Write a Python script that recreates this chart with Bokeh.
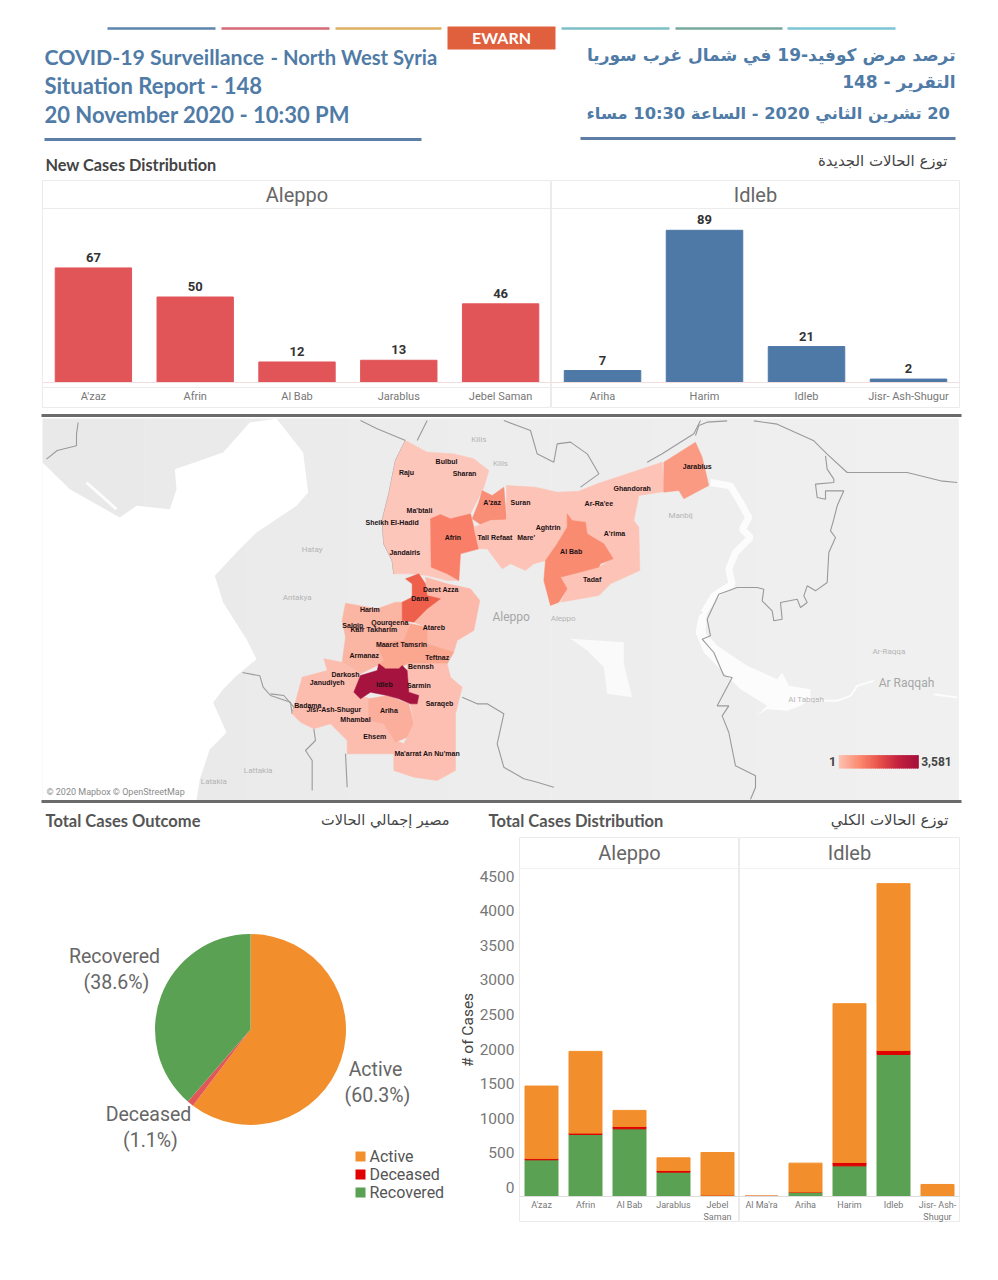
import math
from bokeh.core.properties import value
from bokeh.embed import file_html
from bokeh.layouts import column, row
from bokeh.models import ColumnDataSource, FactorRange, FixedTicker, Range1d, Span
from bokeh.plotting import figure
from bokeh.resources import INLINE
from bokeh.transform import dodge

# ---------- data ----------
aleppo_districts = ["A'zaz", "Afrin", "Al Bab", "Jarablus", "Jebel Saman"]
aleppo_new_cases = [67, 50, 12, 13, 46]
idleb_districts = ["Ariha", "Harim", "Idleb", "Jisr- Ash-Shugur"]
idleb_new_cases = [7, 89, 21, 2]

outcome_labels = ["Active", "Deceased", "Recovered"]
outcome_share = [60.3, 1.1, 38.6]

total_aleppo_districts = ["A'zaz", "Afrin", "Al Bab", "Jarablus", "Jebel\nSaman"]
total_aleppo_recovered = [530, 897, 978, 352, 14]
total_aleppo_deceased = [20, 19, 34, 24, 5]
total_aleppo_active = [1046, 1181, 232, 183, 617]
total_idleb_districts = ["Al Ma'ra", "Ariha", "Harim", "Idleb", "Jisr- Ash-\nShugur"]
total_idleb_recovered = [2, 63, 443, 2053, 0]
total_idleb_deceased = [0, 2, 49, 58, 0]
total_idleb_active = [3, 417, 2294, 2410, 174]
total_ticks = [0, 500, 1000, 1500, 2000, 2500, 3000, 3500, 4000, 4500]

# map data: planar map coordinates
map_region_names = ["Afrin NW", "Afrin", "A'zaz", "Mare'", "Ar-Ra'ee", "Al Bab", "Jarablus",
                    "Atareb", "Harim", "Maaret Tamsrin", "Dana", "Jisr-Ash-Shugur", "Ariha",
                    "Ma'arrat", "Idleb"]
map_region_x = [
    [405, 470, 550, 610, 655, 640, 605, 600, 540, 510, 480, 482, 530, 565, 530, 470, 420, 370, 365, 340, 335, 355, 375],
    [480, 510, 540, 600, 610, 625, 570, 565, 530, 482],
    [635, 665, 700, 708, 660, 630, 605, 625],
    [708, 795, 860, 890, 890, 860, 825, 790, 765, 720, 695, 650, 625, 610, 630, 660, 708],
    [860, 925, 980, 1175, 1182, 1105, 1090, 1105, 1108, 1020, 985, 870, 890, 870, 985, 1025, 1000, 950, 945, 905, 890],
    [890, 905, 945, 950, 1000, 1028, 990, 985, 870, 890, 865, 840, 820, 825, 860, 890],
    [1180, 1275, 1295, 1315, 1240, 1225, 1180],
    [465, 530, 600, 628, 610, 560, 550, 470, 470, 430, 470, 510, 470],
    [225, 265, 320, 375, 395, 395, 420, 400, 315, 340, 320, 270, 215, 225, 215],
    [315, 400, 420, 470, 470, 550, 530, 410, 385, 345, 320, 340],
    [405, 445, 465, 470, 510, 470, 430, 395, 395, 425, 425],
    [160, 215, 270, 250, 300, 295, 340, 375, 400, 370, 230, 230, 180, 130, 90, 65, 95, 170],
    [295, 350, 415, 430, 410, 375, 340, 295],
    [410, 530, 540, 575, 555, 555, 500, 430, 370, 370, 400, 410, 430, 420, 440, 445, 415],
    [270, 320, 325, 345, 385, 395, 410, 415, 445, 440, 420, 385, 350, 300, 270, 250],
]
map_region_y = [
    [60, 95, 100, 115, 150, 200, 270, 280, 295, 282, 295, 440, 460, 480, 480, 465, 460, 460, 420, 370, 300, 220, 120],
    [295, 282, 295, 280, 320, 385, 400, 480, 460, 440],
    [210, 225, 200, 298, 300, 312, 295, 245],
    [195, 200, 215, 290, 320, 370, 420, 430, 450, 430, 445, 385, 385, 320, 312, 300, 298],
    [215, 212, 190, 125, 213, 225, 300, 320, 450, 490, 525, 545, 505, 470, 440, 415, 370, 340, 305, 300, 290],
    [280, 300, 305, 340, 370, 415, 430, 440, 470, 505, 545, 555, 480, 420, 370, 320],
    [125, 65, 110, 195, 235, 210, 215],
    [470, 490, 505, 540, 630, 660, 695, 670, 620, 605, 565, 535, 525],
    [548, 555, 565, 545, 545, 600, 610, 660, 665, 720, 735, 760, 725, 650, 600],
    [665, 660, 610, 620, 670, 695, 730, 730, 745, 745, 735, 720],
    [475, 460, 490, 525, 535, 565, 605, 600, 545, 530, 490],
    [715, 725, 760, 820, 835, 900, 910, 960, 970, 1000, 1000, 960, 910, 925, 905, 880, 770, 750],
    [835, 825, 850, 910, 950, 965, 910, 900],
    [730, 730, 770, 800, 880, 1050, 1080, 1070, 1050, 1000, 970, 950, 910, 850, 850, 825, 815],
    [765, 750, 730, 745, 745, 735, 750, 815, 825, 850, 850, 835, 825, 815, 835, 815],
]
map_region_color = ["#fdc6ba", "#f97f68", "#f98e76", "#fdc3b6", "#fdc3b6", "#f98b71", "#fa9a82",
                    "#fcb9a9", "#fbb5a3", "#fba78f", "#ee5f4c", "#fcbcae", "#fbae9b", "#fcbfb1", "#a5133e"]

sea_x = [-684, -602, -452, -402, -302, -282, -287, -142, -62, 18, 98, 113, 78, -42, -102, -167, -142, -72, -42, -102, -142, -172, -132, -182, -212, -222, -684]
sea_y = [126, 206, 291, 256, 266, 206, 146, 96, 6, -6, 96, 216, 256, 336, 396, 466, 546, 656, 716, 766, 806, 846, 936, 986, 1076, 1140, 1140]
lake_x = [1310, 1305, 1340, 1430, 1520, 1535, 1555, 1620, 1620, 1590, 1550, 1490, 1460, 1490, 1410, 1360, 1300, 1275, 1285]
lake_y = [566, 636, 676, 736, 776, 756, 796, 806, 836, 856, 871, 866, 886, 856, 806, 756, 696, 636, 586]
salt_x = [900, 1060, 1060, 1085, 1010, 1000, 950]
salt_y = [655, 665, 730, 830, 820, 740, 690]
river_x = [[1320, 1380, 1410, 1435, 1415, 1440, 1395, 1375, 1385, 1330, 1300], [1610, 1700, 1740, 1760, 1810], [1990, 2060], [-552, -462]]
river_y = [[186, 196, 246, 291, 326, 351, 396, 446, 491, 526, 576], [841, 841, 826, 796, 781], [821, 831], [186, 266]]
river_w = [7, 2, 2, 3]

border_x = [
    [270, 320, 405], [440, 470], [700, 780, 800, 850, 860, 900, 950, 985, 930], [1130, 1175, 1270, 1290],
    [405, 375, 355, 335, 340, 365, 370], [0, 40, 70, 65], [130, 135, 105, 125, 125], [225, 230],
    [575, 620, 650, 700, 680, 700, 760, 800, 850], [-672, -640, -582, -582, -577],
    [-84, -32, -22, 0, 60, 65], [1275, 1285, 1310, 1370],
    [1450, 1520, 1630, 1670, 1730, 1910, 2010, 2060],
    [1665, 1670, 1690, 1690, 1635, 1640, 1665, 1665, 1720, 1700, 1690, 1680, 1695, 1675, 1670, 1635, 1610, 1600, 1610, 1590, 1580, 1530, 1535, 1510, 1505, 1475, 1480, 1460, 1400, 1345, 1310, 1320, 1295, 1330, 1360, 1385, 1340, 1375, 1355, 1375, 1395, 1455, 1455, 1440],
]
border_y = [
    [0, 25, 60], [60, 0], [0, 30, 100, 125, 70, 65, 100, 160, 200], [125, 100, 40, 0],
    [60, 120, 220, 300, 370, 420, 460], [820, 825, 860, 880], [925, 960, 990, 1020, 1110], [1000, 1100],
    [830, 850, 850, 880, 970, 1040, 1075, 1085, 1100], [116, 90, 76, 40, 6],
    [756, 766, 800, 825, 845, 880], [45, 15, 5, 1],
    [1, 11, 61, 101, 156, 156, 181, 186],
    [106, 146, 176, 186, 191, 231, 236, 211, 211, 256, 296, 331, 351, 396, 486, 511, 496, 526, 546, 561, 536, 546, 596, 601, 571, 541, 506, 501, 501, 521, 596, 646, 656, 696, 766, 771, 856, 856, 886, 936, 1036, 1066, 1101, 1136],
]

map_place_names = ["Hatay", "Antakya", "Kilis", "Kilis", "Manbij", "Aleppo", "Lattakia", "Latakia", "Ar-Raqqa", "Al Tabqah"]
map_place_x = [125, 80, 625, 690, 1230, 878, -37, -170, 1855, 1607]
map_place_y = [388, 530, 58, 130, 285, 595, 1051, 1084, 694, 838]
map_city_names = ["Aleppo", "Ar Raqqah"]
map_city_x = [722, 1908]
map_city_y = [590, 788]

district_names = ["Bulbul", "Raju", "Sharan", "Jarablus", "A'zaz", "Suran", "Ghandorah", "Ar-Ra'ee", "Ma'btali",
                  "Sheikh El-Hadid", "Aghtrin", "A'rima", "Afrin", "Tall Refaat", "Mare'", "Jandairis", "Al Bab",
                  "Tadaf", "Daret Azza", "Dana", "Harim", "Qourqeena", "Salqin", "Kafr Takharim", "Atareb",
                  "Maaret Tamsrin", "Armanaz", "Teftnaz", "Bennsh", "Darkosh", "Janudiyeh", "Idleb", "Sarmin",
                  "Saraqeb", "Badama", "Jisr-Ash-Shugur", "Ariha", "Mhambal", "Ehsem", "Ma'arrat An Nu'man"]
district_x = [528, 408, 582, 1280, 665, 750, 1085, 985, 447, 365, 833, 1032, 547, 673, 767, 403, 902, 965, 511, 448,
              298, 358, 247, 310, 490, 393, 281, 500, 451, 225, 170, 342, 445, 507, 112, 190, 355, 255, 313, 470]
district_y = [124, 155, 160, 137, 247, 247, 205, 250, 269, 305, 322, 340, 352, 350, 352, 395, 392, 478, 508, 533,
              568, 605, 615, 628, 620, 673, 706, 711, 737, 762, 785, 793, 795, 848, 855, 866, 870, 897, 948, 998]
scale_stops = ["#fcbfb0", "#fb8a70", "#e8524a", "#c4213f", "#a5103c"]
scale_low, scale_high = "1", "3,581"

# ---------- styling ----------
HEAD = "Lato"
NARROW = "Roboto"
ARABIC = "DejaVu Sans"
BLUE_TXT = "#4f7ba6"
ORANGE, RED, GREEN = "#f28e2b", "#e00000", "#5ba153"
FRAME = "#ebebeb"


def page_fig(w, h, x0, x1, y0, y1):
    p = figure(width=w, height=h, x_range=Range1d(x0, x1), y_range=Range1d(y0, y1),
               output_backend="svg", toolbar_location=None, min_border=0)
    p.axis.visible = False
    p.grid.visible = False
    p.outline_line_color = None
    return p


def txt(p, x, y, s, size, color, font=HEAD, style="normal", align="left", angle=0):
    p.text(x=[x], y=[y], text=[s], text_font=value(font), text_font_size=f"{size}px", text_color=color,
           text_font_style=style, text_align=align, text_baseline="middle", angle=angle)


def rtl(s):
    return "\u202b" + s + "\u202c"


# ---------- header ----------
head = page_fig(990, 180, 0, 990, 180, 0)
for (a, b), c in zip([(107, 215), (221, 329), (335, 441), (561, 669), (675, 782), (787, 895)],
                     ["#5d85ad", "#d46a74", "#dfae62", "#7dbfc7", "#76a89e", "#7cc4d4"]):
    head.line([a, b], [28, 28], line_color=c, line_width=2.5)
head.quad(left=[447], right=[555], top=[26], bottom=[49], fill_color="#e0603d", line_color=None)
txt(head, 501, 37, "EWARN", 16, "white", style="bold", align="center")
txt(head, 44, 56, "COVID-19 Surveillance", 21.3, BLUE_TXT, style="bold")
txt(head, 270, 56, "- North West Syria", 20.2, BLUE_TXT, style="bold")
txt(head, 44, 85, "Situation Report - 148", 22, BLUE_TXT, style="bold")
txt(head, 44, 114, "20 November  2020 - 10:30 PM", 22, BLUE_TXT, style="bold")
head.line([44, 421], [139, 139], line_color="#5d7fa5", line_width=3)
head.line([580, 955], [138, 138], line_color="#5d7fa5", line_width=3)
txt(head, 955, 54, rtl("ترصد مرض كوفيد-19 في شمال غرب سوريا"), 17, BLUE_TXT, ARABIC, "bold", "right")
txt(head, 955, 81, rtl("التقرير - 148"), 17, BLUE_TXT, ARABIC, "bold", "right")
txt(head, 955, 113, rtl("20 تشرين الثاني 2020  - الساعة 10:30 مساء"), 16.3, BLUE_TXT, ARABIC, "bold", "right")
txt(head, 45, 164, "New Cases Distribution", 16.3, "#444444", style="bold")
txt(head, 947, 160, rtl("توزع الحالات الجديدة"), 15, "#444444", ARABIC, "normal", "right")


# ---------- new cases ----------
def new_cases(title, cats, vals, color, width, left, right, offset):
    px = 1.71
    p = figure(width=width, height=228, x_range=FactorRange(factors=cats),
               y_range=Range1d(-26 / px, 202 / px), output_backend="svg", toolbar_location=None,
               min_border=0, min_border_left=left, min_border_right=right)
    p.grid.visible = False
    p.yaxis.visible = False
    p.outline_line_color = FRAME
    p.vbar(x=cats, top=vals, width=0.75, color=color)
    p.text(x=cats, y=vals, text=[str(v) for v in vals], text_font=value(NARROW), text_font_style="bold",
           text_font_size="13px", text_color="#333333", text_align="center", text_baseline="bottom", y_offset=-6)
    s = ColumnDataSource(dict(c=[cats[len(cats) // 2 - (0 if offset == 0 else 1)]], y=[188 / px], t=[title]))
    p.text(x=dodge("c", offset, range=p.x_range), y="y", text="t", source=s, text_font=value("Roboto"),
           text_font_size="20px", text_color="#666666", text_align="center", text_baseline="middle")
    p.add_layout(Span(location=174 / px, dimension="width", line_color=FRAME, line_width=1))
    p.add_layout(Span(location=-5 / px, dimension="width", line_color=FRAME, line_width=1))
    ax = p.xaxis[0]
    ax.fixed_location = 0
    ax.major_tick_line_color = None
    ax.major_tick_out = 0
    ax.major_tick_in = 0
    ax.axis_line_color = "#f2dedd"
    ax.major_label_standoff = 7
    ax.major_label_text_font = NARROW
    ax.major_label_text_font_size = "11px"
    ax.major_label_text_color = "#777777"
    return p


bars_a = new_cases("Aleppo", aleppo_districts, aleppo_new_cases, "#e15559", 551, 42, 0, 0)
bars_i = new_cases("Idleb", idleb_districts, idleb_new_cases, "#4e78a6", 439, 0, 31, 0.5)

# ---------- map ----------
m = page_fig(990, 397, -810, 2160, 1155, -36)
bands = 9
for i in range(bands):
    g = 233 + round(7 * i / (bands - 1))
    m.quad(left=[-684 + 2748 * i / bands], right=[-684 + 2748 * (i + 1) / bands + 1], top=[-6], bottom=[1140],
           fill_color=f"#{g:02x}{g:02x}{g:02x}", line_color=None)
m.patch(sea_x, sea_y, fill_color="#ffffff", line_color=None)
m.patch(lake_x, lake_y, fill_color="#fcfcfc", line_color=None)
m.patch(salt_x, salt_y, fill_color="#fafafa", line_color=None)
for xs, ys, w in zip(river_x, river_y, river_w):
    m.line(xs, ys, line_color="#fcfcfc", line_width=w)
m.multi_line(border_x, border_y, line_color="#9a9a9a", line_width=1.1)
m.patches(map_region_x, map_region_y, fill_color=map_region_color, line_color=map_region_color, line_width=0.5)
m.text(map_place_x, map_place_y, text=map_place_names, text_font=value("Roboto"), text_font_size="8px",
       text_color="#b4b4b4", text_align="center", text_baseline="middle")
m.text(map_city_x, map_city_y, text=map_city_names, text_font=value("Roboto"), text_font_size="12px",
       text_color="#a6a6a6", text_align="center", text_baseline="middle")
m.text(district_x, district_y, text=district_names, text_font=value("Liberation Sans"), text_font_size="7px",
       text_font_style="bold", text_color="#1a1114", text_align="center", text_baseline="middle")
txt(m, -672, 1113, "© 2020 Mapbox © OpenStreetMap", 9, "#8a8a8a", "Roboto")
# colour scale key
steps = 40
def mix(t):
    i = min(int(t * (len(scale_stops) - 1)), len(scale_stops) - 2)
    f = t * (len(scale_stops) - 1) - i
    a, b = scale_stops[i], scale_stops[i + 1]
    return "#" + "".join(f"{round(int(a[k:k+2],16)*(1-f)+int(b[k:k+2],16)*f):02x}" for k in (1, 3, 5))
edges = [1705 + (1945 - 1705) * i / steps for i in range(steps + 1)]
m.quad(left=edges[:-1], right=[e + 3 for e in edges[1:-1]] + [edges[-1]], top=[1004] * steps, bottom=[1044] * steps,
       fill_color=[mix(i / (steps - 1)) for i in range(steps)], line_color=None)
txt(m, 1697, 1024, scale_low, 12.5, "#444444", NARROW, "bold", "right")
txt(m, 1952, 1024, scale_high, 12, "#444444", NARROW, "bold")
m.line([-687, 2073], [-15, -15], line_color="#6b6b6b", line_width=3)
m.line([-687, 2073], [1143, 1143], line_color="#6b6b6b", line_width=3)

# ---------- section titles ----------
band = page_fig(990, 32, 0, 990, 837, 805)
txt(band, 45, 820, "Total Cases Outcome", 16.5, "#555555", style="bold")
txt(band, 449, 819, rtl("مصير إجمالي الحالات"), 14.5, "#444444", ARABIC, "normal", "right")
txt(band, 488, 820, "Total Cases Distribution", 16.5, "#555555", style="bold")
txt(band, 948, 819, rtl("توزع الحالات الكلي"), 15, "#444444", ARABIC, "normal", "right")

# ---------- pie ----------
pie = page_fig(449, 385, -250, 199, -193, 192)
colors_pie = [ORANGE, "#e15759", GREEN]
cum = 0
for share, c in zip(outcome_share, colors_pie):
    a0 = math.pi / 2 - 2 * math.pi * cum / 100
    cum += share
    a1 = math.pi / 2 - 2 * math.pi * cum / 100
    pie.wedge(x=[0], y=[0], radius=95.5, start_angle=a0, end_angle=a1, direction="clock", fill_color=c, line_color=None)
label_pos = {"Active": (125, -40), "Deceased": (-102, -85), "Recovered": (-136, 73)}
for name, share in zip(outcome_labels, outcome_share):
    lx, ly = label_pos[name]
    txt(pie, lx, ly, name, 19.5, "#666666", NARROW, align="center")
    txt(pie, lx + 2, ly - 26, f"({share}%)", 19.5, "#666666", NARROW, align="center")
for i, (name, c) in enumerate(zip(outcome_labels, [ORANGE, RED, GREEN])):
    pie.quad(left=[105], right=[115], top=[-122 - 18 * i], bottom=[-132 - 18 * i], fill_color=c, line_color=None)
    txt(pie, 119, -126.5 - 18 * i, name, 16, "#555555", NARROW)


# ---------- total cases ----------
def totals(title, cats, rec, dec, act, width, left, right, show_y):
    px = 0.0692
    p = figure(width=width, height=385, x_range=FactorRange(factors=cats),
               y_range=Range1d(-26 / px, 359 / px), output_backend="svg", toolbar_location=None,
               min_border=0, min_border_left=left, min_border_right=right)
    p.grid.visible = False
    p.outline_line_color = FRAME
    src = ColumnDataSource(dict(cat=cats, Recovered=rec, Deceased=dec, Active=act))
    p.vbar_stack(["Recovered", "Deceased", "Active"], x="cat", width=0.75, color=[GREEN, RED, ORANGE], source=src)
    s = ColumnDataSource(dict(c=[cats[2]], y=[344 / px], t=[title]))
    p.text(x="c", y="y", text="t", source=s, text_font=value("Roboto"), text_font_size="20px",
           text_color="#666666", text_align="center", text_baseline="middle")
    p.add_layout(Span(location=328 / px, dimension="width", line_color="#f1f1f1", line_width=1))
    ax = p.xaxis[0]
    ax.fixed_location = 0
    ax.major_tick_line_color = None
    ax.major_tick_out = 0
    ax.major_tick_in = 0
    ax.axis_line_color = "#dddddd"
    ax.major_label_standoff = 3
    ax.major_label_text_font = NARROW
    ax.major_label_text_font_size = "9px"
    ax.major_label_text_color = "#777777"
    if show_y:
        # in the reference the value labels sit 9px above their true positions
        shift = 9 / px
        yax = p.yaxis[0]
        yax.ticker = FixedTicker(ticks=[t + shift for t in total_ticks])
        yax.major_label_overrides = {t + shift: str(t) for t in total_ticks}
        yax.major_tick_line_color = None
        yax.minor_tick_line_color = None
        yax.major_tick_out = 0
        yax.major_tick_in = 0
        yax.axis_line_color = None
        yax.major_label_standoff = 5
        yax.major_label_text_font = NARROW
        yax.major_label_text_font_size = "15.5px"
        yax.major_label_text_color = "#777777"
        yax.axis_label = "# of Cases"
        yax.axis_label_text_font = NARROW
        yax.axis_label_text_font_style = "normal"
        yax.axis_label_text_font_size = "15.5px"
        yax.axis_label_text_color = "#444444"
        yax.axis_label_standoff = 0
    else:
        p.yaxis.visible = False
    return p


tot_a = totals("Aleppo", total_aleppo_districts, total_aleppo_recovered, total_aleppo_deceased,
               total_aleppo_active, 290, 70, 0, True)
tot_i = totals("Idleb", total_idleb_districts, total_idleb_recovered, total_idleb_deceased,
               total_idleb_active, 251, 0, 31, False)

page = column(head, row(bars_a, bars_i), m, band, row(pie, tot_a, tot_i))
open("out.html", "w").write(file_html(page, INLINE))
